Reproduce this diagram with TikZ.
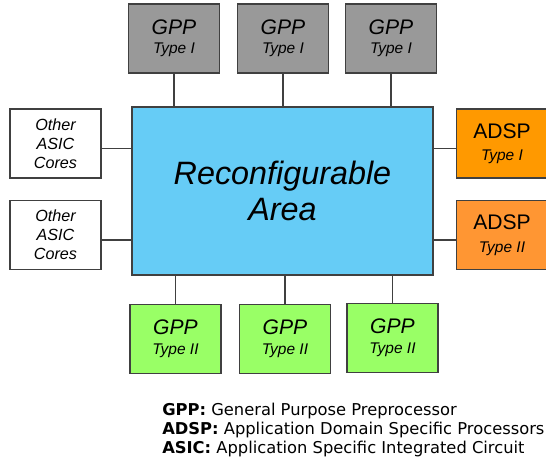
\documentclass[tikz,border=0pt]{standalone}
\usepackage{fontspec}
\setmainfont{Liberation Sans}
\newfontfamily\legendfont{DejaVu Sans}
\usepackage{tikz}
\usetikzlibrary{positioning}

\definecolor{edgegray}{RGB}{64,64,64}
\definecolor{gppgray}{RGB}{153,153,153}
\definecolor{areablue}{RGB}{102,204,246}
\definecolor{adsporange}{RGB}{255,153,0}
\definecolor{adsplight}{RGB}{255,150,51}
\definecolor{gppgreen}{RGB}{153,255,102}

\begin{document}
\begin{tikzpicture}[
  x=0.025cm, y=-0.025cm,
  unitbox/.style={draw=edgegray, line width=1.1pt, inner sep=0pt, align=center,
    minimum width=2.28cm, minimum height=1.72cm},
  gppone/.style={unitbox, fill=gppgray, font=\fontsize{11}{13.5}\selectfont\itshape},
  gpptwo/.style={unitbox, fill=gppgreen, font=\fontsize{11}{14}\selectfont\itshape},
  asicbox/.style={unitbox, fill=white, font=\fontsize{11.5}{13.5}\selectfont\itshape},
  adspbox/.style={unitbox, font=\fontsize{11}{16}\selectfont\itshape},
  link/.style={draw=edgegray, line width=1.1pt}
]
\useasboundingbox (0,0) rectangle (546,459);

% --- Reconfigurable fabric in the middle ---
\node (area) [draw=edgegray, line width=1.1pt, fill=areablue,
  minimum width=7.525cm, minimum height=4.2cm, align=center,
  font=\fontsize{23}{26}\selectfont\itshape] at (282.5,191)
  {Reconfigurable\\Area};

% --- Processors above and below ---
\foreach \n/\x in {1/174,2/283,3/391}
  \node (gppA\n) [gppone] at (\x,38.5)
    {{\fontsize{15}{17}\selectfont GPP}\\Type I};
\foreach \n/\x/\y in {1/175.5/339,2/285/339,3/392.5/338}
  \node (gppB\n) [gpptwo] at (\x,\y)
    {{\fontsize{15}{17}\selectfont GPP}\\Type II};

% --- ASIC cores on the left ---
\node (asic1) [asicbox] at (55.5,143.5) {Other\\ASIC\\Cores};
\node (asic2) [asicbox] at (55.5,235)   {Other\\ASIC\\Cores};

% --- Domain specific processors on the right ---
\node (adsp1) [adspbox, fill=adsporange] at (502,143.5)
  {{\fontsize{15}{17}\selectfont\upshape ADSP}\\Type I};
\node (adsp2) [adspbox, fill=adsplight] at (502,235)
  {{\fontsize{15}{17}\selectfont\upshape ADSP}\\Type II};

% --- Links to the area ---
\foreach \n in {1,2,3} {
  \draw[link] (gppA\n.south) -- (gppA\n |- area.north);
  \draw[link] (gppB\n.north) -- (gppB\n |- area.south);
}
\foreach \n in {1,2} {
  \draw[link] ([yshift=-3.5]asic\n.east) -- ([yshift=-3.5]asic\n -| area.west);
  \draw[link] ([yshift=-3.5]adsp\n.west) -- ([yshift=-3.5]adsp\n -| area.east);
}

% --- Legend (anchored on its last line) ---
\node (legend) [anchor=base west, align=left, inner sep=0pt,
  font=\legendfont\fontsize{11.6}{13.5}\selectfont] at (162,453)
  {\textbf{GPP:} General Purpose Preprocessor\\
   \textbf{ADSP:} Application Domain Specific Processors\\
   \textbf{ASIC:} Application Specific Integrated Circuit};

\end{tikzpicture}
\end{document}
